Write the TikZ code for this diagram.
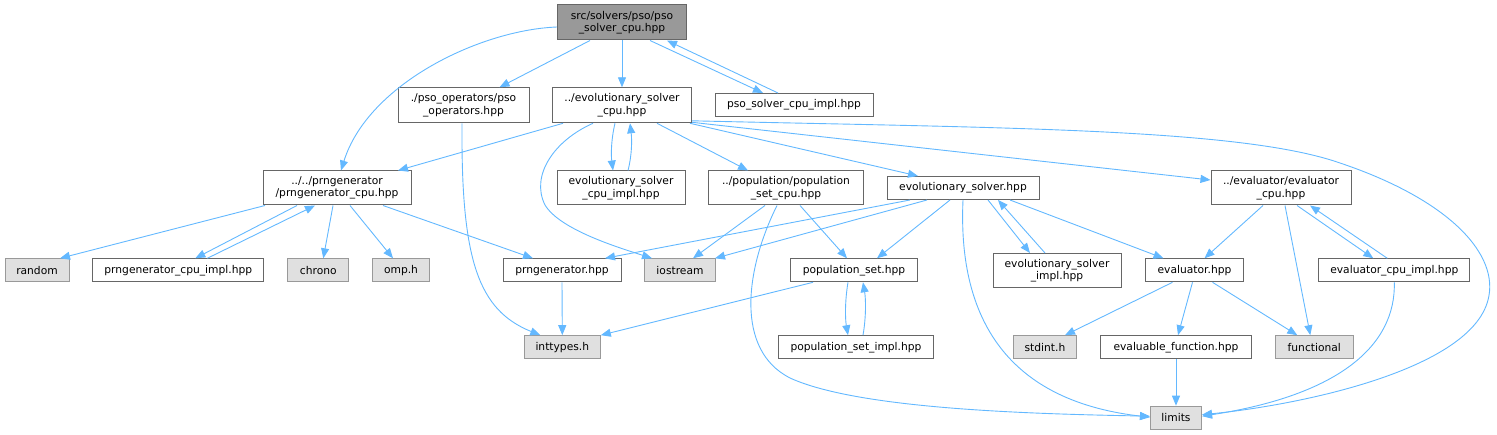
\documentclass[tikz,border=0pt]{standalone}
\usepackage{fontspec}
\setmainfont{DejaVu Sans}
\usetikzlibrary{arrows.meta}
\definecolor{edgecol}{HTML}{63B8FF}
\definecolor{nodeborder}{HTML}{666666}
\definecolor{extborder}{HTML}{999999}
\definecolor{extfill}{HTML}{E0E0E0}
\definecolor{rootfill}{HTML}{999999}
\tikzset{
  nb/.style={draw=nodeborder, fill=white, line width=1pt, inner sep=0pt, align=center,
    font=\fontsize{10.7}{12.5}\selectfont},
  ext/.style={nb, draw=extborder, fill=extfill},
  rootn/.style={nb, draw=nodeborder, fill=rootfill},
  edge/.style={draw=edgecol, line width=0.9pt, -{Triangle[length=10pt,width=8pt]}},
}
\begin{document}
\begin{tikzpicture}[x=1pt,y=-1pt]
\useasboundingbox (0,0) rectangle (1497,435);
% nodes
\node[rootn, minimum width=129, minimum height=35] (root) at (622,22.5) {src/solvers/pso/pso\\\_solver\_cpu.hpp};
\node[nb, minimum width=131, minimum height=35] (psoops) at (463.5,105.3) {./pso\_operators/pso\\\_operators.hpp};
\node[nb, minimum width=139, minimum height=35] (evocpu) at (622,105.3) {../evolutionary\_solver\\\_cpu.hpp};
\node[nb, minimum width=158, minimum height=23] (psoimpl) at (794,105) {pso\_solver\_cpu\_impl.hpp};
\node[nb, minimum width=148, minimum height=34] (prngcpu) at (337,188) {../../prngenerator\\/prngenerator\_cpu.hpp};
\node[ext, minimum width=64, minimum height=23] (random) at (37,270.3) {random};
\node[nb, minimum width=171, minimum height=23] (prngimpl) at (178.3,270.3) {prngenerator\_cpu\_impl.hpp};
\node[ext, minimum width=61, minimum height=23] (chrono) at (318.3,270.3) {chrono};
\node[ext, minimum width=57, minimum height=23] (omp) at (401,270.3) {omp.h};
\node[nb, minimum width=128, minimum height=34] (evocpuimpl) at (621,188) {evolutionary\_solver\\\_cpu\_impl.hpp};
\node[nb, minimum width=155, minimum height=34] (popcpu) at (786,188) {../population/population\\\_set\_cpu.hpp};
\node[nb, minimum width=152, minimum height=23] (evosolver) at (963,188) {evolutionary\_solver.hpp};
\node[nb, minimum width=140, minimum height=34] (evalcpu) at (1281,188) {../evaluator/evaluator\\\_cpu.hpp};
\node[nb, minimum width=118, minimum height=23] (prng) at (562,270.3) {prngenerator.hpp};
\node[ext, minimum width=71, minimum height=23] (iostream) at (680,270.3) {iostream};
\node[nb, minimum width=127, minimum height=23] (popset) at (854,270.3) {population\_set.hpp};
\node[nb, minimum width=128, minimum height=34] (evoimpl) at (1057,270.5) {evolutionary\_solver\\\_impl.hpp};
\node[nb, minimum width=98, minimum height=23] (evaluator) at (1194.5,270.3) {evaluator.hpp};
\node[nb, minimum width=151, minimum height=23] (evalimpl) at (1394.3,270.3) {evaluator\_cpu\_impl.hpp};
\node[ext, minimum width=76, minimum height=23] (inttypes) at (562.3,347.2) {inttypes.h};
\node[nb, minimum width=155, minimum height=23] (popimpl) at (856,347.2) {population\_set\_impl.hpp};
\node[ext, minimum width=63, minimum height=23] (stdint) at (1045,347.2) {stdint.h};
\node[nb, minimum width=151, minimum height=23] (evalfn) at (1176,347.2) {evaluable\_function.hpp};
\node[ext, minimum width=78, minimum height=23] (functional) at (1314.3,347.2) {functional};
\node[ext, minimum width=51, minimum height=23] (limits) at (1176,417.7) {limits};
% edges from root
\draw[edge] ([yshift=-4.5]root.west) .. controls (480,30) and (368,84) .. ([xshift=4]prngcpu.north);
\draw[edge] ([xshift=-32]root.south) -- ([xshift=36]psoops.north);
\draw[edge] (root.south) -- (evocpu.north);
\draw[edge] ([xshift=28]root.south) -- ([xshift=-31]psoimpl.north);
\draw[edge] ([xshift=-16]psoimpl.north) -- ([xshift=45]root.south);
% pso operators
\draw[edge] ([xshift=-1.5]psoops.south) .. controls (461,260) and (478,310) .. ([xshift=-22]inttypes.north);
% evolutionary solver cpu
\draw[edge] ([xshift=-59]evocpu.south) -- ([xshift=61]prngcpu.north);
\draw[edge] ([xshift=-29]evocpu.south) .. controls (555,140) and (530,175) .. (545,205) .. controls (560,230) and (620,248) .. ([xshift=-28]iostream.north);
\draw[edge] ([xshift=-7]evocpu.south) .. controls (611,140) and (611,155) .. ([xshift=-8]evocpuimpl.north);
\draw[edge] ([xshift=7]evocpuimpl.north) .. controls (632,155) and (632,140) .. ([xshift=8]evocpu.south);
\draw[edge] ([xshift=35]evocpu.south) -- ([xshift=-38]popcpu.north);
\draw[edge] ([xshift=-2]evocpu.south east) -- ([xshift=-45]evosolver.north);
\draw[edge] ([yshift=1]evocpu.south east) -- ([yshift=8]evalcpu.west);
\draw[edge] ([yshift=2.5]evocpu.south east) .. controls (1000,128) and (1240,128) .. (1340,163) .. controls (1450,200) and (1500,255) .. (1488,300) .. controls (1470,370) and (1300,405) .. ([yshift=3]limits.east);
% prngenerator cpu
\draw[edge] ([xshift=-72]prngcpu.south) -- ([xshift=23]random.north);
\draw[edge] ([xshift=-40]prngcpu.south) -- ([xshift=17]prngimpl.north);
\draw[edge] ([xshift=29]prngimpl.north) -- ([xshift=-22]prngcpu.south);
\draw[edge] ([xshift=-4]prngcpu.south) -- ([xshift=5]chrono.north);
\draw[edge] ([xshift=13]prngcpu.south) -- ([xshift=-8]omp.north);
\draw[edge] ([xshift=46]prngcpu.south) -- ([xshift=-29]prng.north);
% population set cpu
\draw[edge] ([xshift=-21]popcpu.south) -- ([xshift=13]iostream.north);
\draw[edge] ([xshift=14]popcpu.south) -- ([xshift=-7]popset.north);
\draw[edge] ([xshift=-9]popcpu.south) .. controls (745,270) and (735,350) .. (790,378) .. controls (860,410) and (1040,414) .. ([yshift=1.5]limits.west);
% evolutionary solver
\draw[edge] ([xshift=-53]evosolver.south) -- ([xshift=43]prng.north);
\draw[edge] ([xshift=-36]evosolver.south) -- ([xshift=-1]iostream.north east);
\draw[edge] ([xshift=-13]evosolver.south) -- ([xshift=23]popset.north);
\draw[edge] (evosolver.south) .. controls (958,310) and (1000,400) .. ([yshift=0.5]limits.west);
\draw[edge] ([xshift=25]evosolver.south) -- ([xshift=-27]evoimpl.north);
\draw[edge] ([xshift=-12]evoimpl.north) -- ([xshift=35]evosolver.south);
\draw[edge] ([xshift=47]evosolver.south) -- ([xshift=-31]evaluator.north);
% evaluator cpu
\draw[edge] ([xshift=-18]evalcpu.south) -- ([xshift=10]evaluator.north);
\draw[edge] ([xshift=4]evalcpu.south) -- ([xshift=-4]functional.north);
\draw[edge] ([xshift=16]evalcpu.south) -- ([xshift=-21]evalimpl.north);
\draw[edge] ([xshift=-7]evalimpl.north) -- ([xshift=29]evalcpu.south);
\draw[edge] (evalimpl.south) .. controls (1396,345) and (1340,395) .. ([yshift=1.5]limits.east);
% lower level
\draw[edge] (prng.south) -- (inttypes.north);
\draw[edge] ([xshift=-41]popset.south) -- (inttypes.north east);
\draw[edge] ([xshift=-6]popset.south) .. controls (845,300) and (845,318) .. ([xshift=-8]popimpl.north);
\draw[edge] ([xshift=7]popimpl.north) .. controls (866,318) and (866,300) .. ([xshift=9]popset.south);
\draw[edge] ([xshift=-22]evaluator.south) -- ([xshift=20]stdint.north);
\draw[edge] ([xshift=-2]evaluator.south) -- ([xshift=2]evalfn.north);
\draw[edge] ([xshift=18]evaluator.south) -- ([xshift=-17]functional.north);
\draw[edge] (evalfn.south) -- (limits.north);
\end{tikzpicture}
\end{document}
